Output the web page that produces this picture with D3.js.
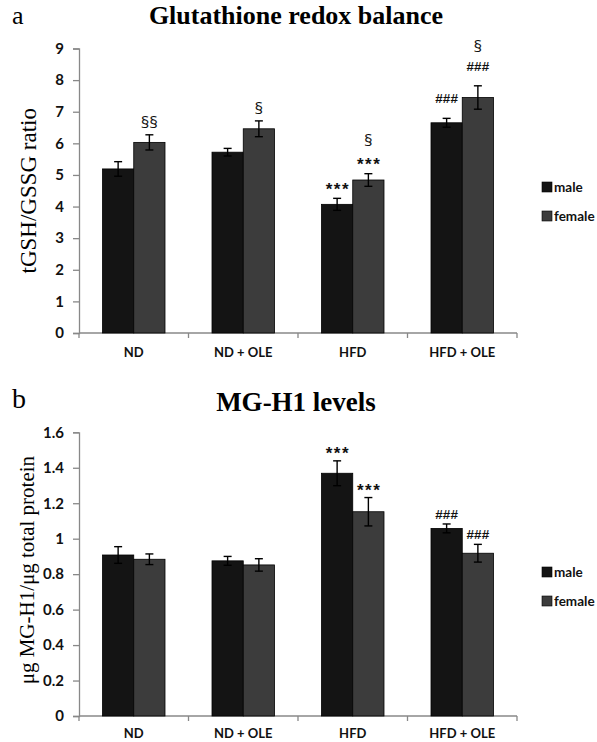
<!DOCTYPE html>
<html><head><meta charset="utf-8">
<script src="https://cdn.jsdelivr.net/npm/d3@7"></script>
<style>body{margin:0;background:#fff}svg{display:block}</style>
</head><body>
<script>
const categories = ["ND", "ND + OLE", "HFD", "HFD + OLE"];
const series = ["male", "female"];
const colors = ["#141414", "#3c3c3c"];

// Panel a: tGSH/GSSG ratio
const gshMale = [5.19, 5.72, 4.07, 6.65];
const gshMaleErr = [0.23, 0.12, 0.19, 0.14];
const gshFemale = [6.03, 6.46, 4.84, 7.45];
const gshFemaleErr = [0.24, 0.25, 0.2, 0.37];
const gshTicks = [0,1,2,3,4,5,6,7,8,9];
const gshMaleLabels = [[], [], ["***"], ["###"]];
const gshFemaleLabels = [["§§"], ["§"], ["***", "§"], ["###", "§"]];

// Panel b: MG-H1 levels
const mgMale = [0.908, 0.875, 1.369, 1.058];
const mgMaleErr = [0.047, 0.025, 0.07, 0.025];
const mgFemale = [0.884, 0.852, 1.152, 0.918];
const mgFemaleErr = [0.03, 0.035, 0.08, 0.05];
const mgTicks = [0, 0.2, 0.4, 0.6, 0.8, 1, 1.2, 1.4, 1.6];
const mgTickLabels = ["0", "0.2", "0.4", "0.6", "0.8", "1", "1.2", "1.4", "1.6"];
const mgMaleLabels = [[], [], ["***"], ["###"]];
const mgFemaleLabels = [[], [], ["***"], ["###"]];

const svg = d3.select("body").append("svg").attr("width", 597).attr("height", 742);

const SERIF = "Liberation Serif, Times New Roman, serif";
const SANS = "Lato, Open Sans, sans-serif";

function panel(cfg) {
  const g = svg.append("g");
  const x0 = d3.scaleBand().domain(categories).range([79, 517]).padding(0);
  const x1 = d3.scaleBand().domain(series).range([23.5, 86]).padding(0);
  const y = d3.scaleLinear().domain(cfg.domain).range(cfg.yRange);

  g.append("text").attr("x", 12).attr("y", cfg.letterY).attr("font-family", SERIF)
    .attr("font-size", cfg.letterSize).text(cfg.letter);
  g.append("text").attr("x", 296).attr("y", cfg.titleY).attr("text-anchor", "middle")
    .attr("font-family", SERIF).attr("font-weight", "bold")
    .attr("font-size", cfg.titleSize).text(cfg.title);

  const yAxis = d3.axisLeft(y).tickValues(cfg.ticks).tickSize(6).tickPadding(9)
    .tickFormat((d, i) => cfg.tickLabels ? cfg.tickLabels[i] : d);
  const ya = g.append("g").attr("transform", "translate(79,0)").call(yAxis);
  ya.select(".domain").attr("stroke", "#888").attr("stroke-width", 1.3);
  ya.selectAll(".tick line").attr("stroke", "#888").attr("stroke-width", 1.3);
  ya.selectAll("text").attr("font-family", SANS).attr("font-weight", "bold")
    .attr("font-size", 15).attr("fill", "#111");

  const yMid = (cfg.yRange[0] + cfg.yRange[1]) / 2 + cfg.labelShift;
  g.append("text").attr("transform", `translate(${cfg.labelX},${yMid}) rotate(-90)`)
    .attr("text-anchor", "middle").attr("font-family", SERIF)
    .attr("font-size", cfg.labelSize).text(cfg.yLabel);

  const base = y(0);
  g.append("line").attr("x1", 79).attr("x2", 517).attr("y1", base).attr("y2", base)
    .attr("stroke", "#888").attr("stroke-width", 1.3);
  const bounds = categories.map(c => x0(c)).concat([x0.range()[1]]);
  g.selectAll(".xt").data(bounds).join("line").attr("x1", d => d).attr("x2", d => d)
    .attr("y1", base).attr("y2", base + 5).attr("stroke", "#888").attr("stroke-width", 1.3);
  g.selectAll(".xl").data(categories).join("text")
    .attr("x", d => x0(d) + x0.bandwidth() / 2).attr("y", base + cfg.xLabelDy)
    .attr("text-anchor", "middle").attr("font-family", SANS)
    .attr("font-weight", "bold").attr("font-size", 13).attr("fill", "#111").text(d => d);

  const data = [];
  categories.forEach((c, i) => {
    data.push({c, s: "male", v: cfg.male[i], e: cfg.maleErr[i], labels: cfg.maleLabels[i], col: colors[0]});
    data.push({c, s: "female", v: cfg.female[i], e: cfg.femaleErr[i], labels: cfg.femaleLabels[i], col: colors[1]});
  });

  g.selectAll(".bar").data(data).join("rect")
    .attr("x", d => x0(d.c) + x1(d.s)).attr("width", x1.bandwidth())
    .attr("y", d => y(d.v)).attr("height", d => base - y(d.v))
    .attr("fill", d => d.col).attr("stroke", "#000").attr("stroke-width", 0.8);

  const cxOf = d => x0(d.c) + x1(d.s) + x1.bandwidth() / 2;
  const eb = g.selectAll(".eb").data(data).join("g");
  eb.append("line").attr("x1", cxOf).attr("x2", cxOf)
    .attr("y1", d => y(d.v - d.e)).attr("y2", d => y(d.v + d.e)).attr("stroke", "#000").attr("stroke-width", 1.4);
  [-1, 1].forEach(sgn => {
    eb.append("line").attr("x1", d => cxOf(d) - 4).attr("x2", d => cxOf(d) + 4)
      .attr("y1", d => y(d.v + sgn * d.e)).attr("y2", d => y(d.v + sgn * d.e))
      .attr("stroke", "#000").attr("stroke-width", 1.4);
  });

  data.forEach(d => {
    const cx = cxOf(d);
    let yc = y(d.v + d.e);
    d.labels.forEach((t, k) => {
      const kind = t[0];
      yc -= (k === 0) ? cfg.firstOff[kind] : cfg.gap;
      let size, fam, weight, shift, ls = 0;
      if (kind === "§") { size = 17; fam = "Open Sans, sans-serif"; weight = "normal"; shift = 0.33; }
      else if (kind === "*") { size = 17; fam = "Liberation Sans, Arial, sans-serif"; weight = "bold"; shift = 0.6; ls = 1.5; }
      else { size = 13.5; fam = "Liberation Sans, Arial, sans-serif"; weight = "bold"; shift = 0.36; }
      g.append("text").attr("x", cx + ls / 2).attr("y", yc + shift * size)
        .attr("text-anchor", "middle").attr("font-family", fam).attr("font-weight", weight)
        .attr("font-size", size).attr("fill", "#111").attr("letter-spacing", ls).text(t);
    });
  });

  series.forEach((s, i) => {
    const ly = cfg.legendY + i * 29;
    g.append("rect").attr("x", 542).attr("y", ly - 5).attr("width", 10).attr("height", 10)
      .attr("fill", colors[i]).attr("stroke", "#000").attr("stroke-width", 0.6);
    g.append("text").attr("x", 554).attr("y", ly + 5).attr("font-family", SANS)
      .attr("font-weight", "bold").attr("font-size", 13.5).attr("fill", "#111").text(s);
  });
}

panel({letter: "a", title: "Glutathione redox balance", letterSize: 26, letterY: 24, titleSize: 26, titleY: 24,
  domain: [0, 9], yRange: [333, 48.5],
  ticks: gshTicks, tickLabels: null, yLabel: "tGSH/GSSG ratio", labelX: 36, labelShift: 0, labelSize: 23,
  male: gshMale, maleErr: gshMaleErr, female: gshFemale, femaleErr: gshFemaleErr,
  maleLabels: gshMaleLabels, femaleLabels: gshFemaleLabels, gap: 19,
  firstOff: {"§": 12, "*": 14, "#": 20}, legendY: 187, xLabelDy: 24});

panel({letter: "b", title: "MG-H1 levels", letterSize: 28, letterY: 408, titleSize: 27, titleY: 411,
  domain: [0, 1.6], yRange: [716, 432.3],
  ticks: mgTicks, tickLabels: mgTickLabels, yLabel: "μg MG-H1/μg total protein", labelX: 34, labelShift: -4, labelSize: 21,
  male: mgMale, maleErr: mgMaleErr, female: mgFemale, femaleErr: mgFemaleErr,
  maleLabels: mgMaleLabels, femaleLabels: mgFemaleLabels, gap: 19,
  firstOff: {"§": 12, "*": 12, "#": 10}, legendY: 572, xLabelDy: 22});
</script>
</body></html>
